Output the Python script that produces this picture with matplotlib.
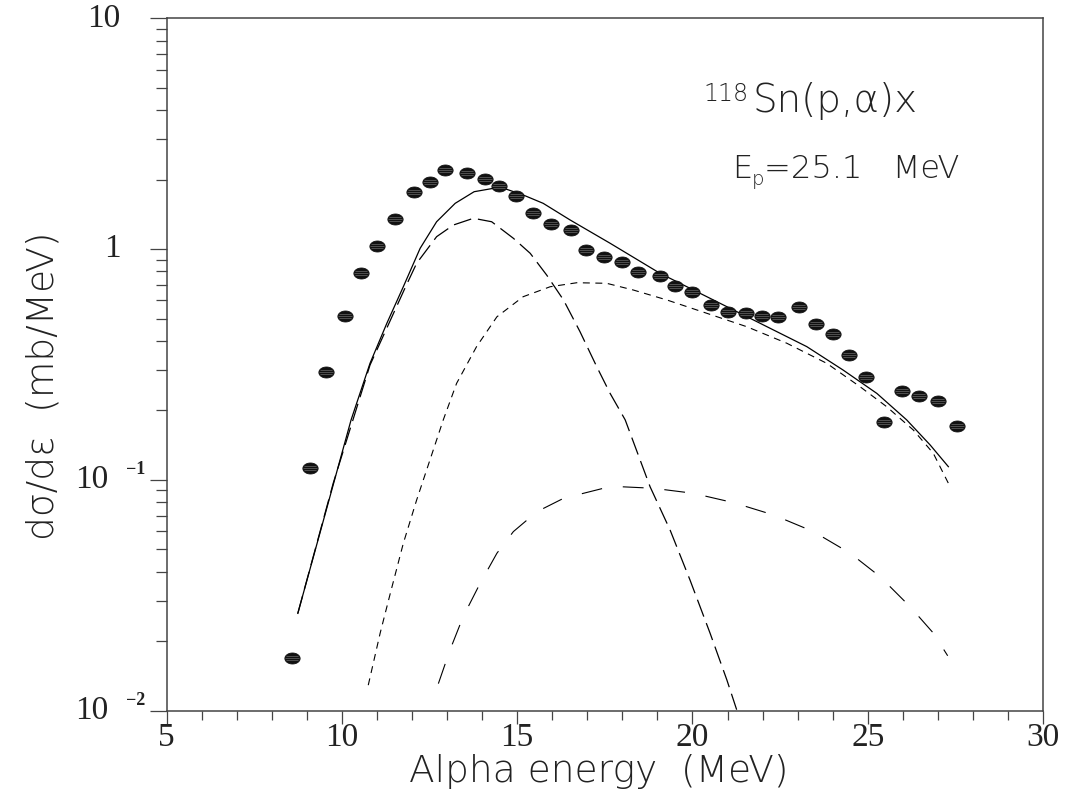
import numpy as np
import matplotlib
matplotlib.use("Agg")
import matplotlib.pyplot as plt
from matplotlib.path import Path
from matplotlib.ticker import LogLocator, NullFormatter, MultipleLocator

plt.rcParams['lines.scale_dashes'] = False

# experimental points (alpha energy in MeV, dsigma/deps in mb/MeV)
exp_e = [8.57, 9.10, 9.55, 10.08, 10.55, 11.00, 11.51, 12.06, 12.51, 12.94,
         13.56, 14.08, 14.47, 14.96, 15.44, 15.96, 16.53, 16.96, 17.48, 17.98,
         18.44, 19.07, 19.50, 20.00, 20.53, 21.00, 21.52, 21.99, 22.43, 23.05,
         23.52, 24.00, 24.47, 24.94, 25.47, 25.97, 26.47, 27.01, 27.54]
exp_xs = [0.0169, 0.113, 0.294, 0.513, 0.790, 1.034, 1.350, 1.763, 1.959, 2.208,
          2.143, 2.018, 1.883, 1.704, 1.434, 1.285, 1.206, 0.988, 0.927, 0.877,
          0.798, 0.765, 0.694, 0.654, 0.573, 0.532, 0.527, 0.514, 0.509, 0.563,
          0.474, 0.429, 0.348, 0.280, 0.179, 0.2435, 0.2316, 0.2204, 0.1712]

# total calculation (solid)
tot_e = [8.74, 10.26, 10.80, 11.28, 11.75, 12.23, 12.70, 13.23, 13.77, 14.32,
         14.70, 15.17, 15.74, 16.51, 17.65, 19.07, 20.21, 21.93, 23.26, 24.30,
         25.26, 26.11, 26.78, 27.30]
tot_xs = [0.0264, 0.182, 0.320, 0.477, 0.687, 1.008, 1.314, 1.579, 1.773, 1.834,
          1.816, 1.716, 1.579, 1.337, 1.060, 0.786, 0.644, 0.477, 0.378, 0.299,
          0.237, 0.182, 0.1417, 0.1141]

# component peaking near 14 MeV (long dashes)
c1_e = [8.74, 9.75, 10.80, 11.80, 12.13, 12.70, 13.18, 13.75, 14.27, 14.89,
        15.37, 15.84, 16.32, 16.79, 17.27, 17.65, 18.08, 18.79, 19.36, 19.93,
        20.50, 20.98, 21.26]
c1_xs = [0.0264, 0.0967, 0.3146, 0.679, 0.868, 1.132, 1.272, 1.360, 1.314, 1.114,
         0.959, 0.772, 0.602, 0.439, 0.309, 0.237, 0.182, 0.0934, 0.0607, 0.0368,
         0.0217, 0.0136, 0.0101]

# component peaking near 17 MeV (short dashes)
c2_e = [10.75, 11.09, 11.38, 11.75, 12.13, 12.51, 12.89, 13.27, 13.84, 14.42,
        15.17, 15.94, 16.70, 17.55, 18.31, 19.27, 20.41, 21.55, 22.69, 23.83,
        24.78, 25.54, 26.30, 26.87, 27.30]
c2_xs = [0.0129, 0.0217, 0.0323, 0.0531, 0.0818, 0.122, 0.182, 0.262, 0.378, 0.509,
         0.622, 0.687, 0.715, 0.711, 0.665, 0.602, 0.527, 0.461, 0.391, 0.320,
         0.2534, 0.2076, 0.1645, 0.1304, 0.0967]

# small component (medium dashes)
c3_e = [12.75, 13.08, 13.46, 13.94, 14.42, 14.89, 15.56, 16.32, 17.46, 17.90,
        18.88, 20.02, 21.17, 22.31, 23.45, 24.50, 25.35, 26.21, 26.87, 27.28]
c3_xs = [0.0131, 0.0183, 0.0256, 0.0356, 0.0481, 0.0597, 0.0728, 0.0832, 0.0920, 0.0935,
         0.0920, 0.0875, 0.0797, 0.0705, 0.0597, 0.0481, 0.0381, 0.0282, 0.0217, 0.0173]

ytick_vals = [10, 1, 0.1, 0.01]
ytick_main = ['10', '1', '10', '10']
ytick_exp = ['', '', '\u22121', '\u22122']
xtick_vals = [5, 10, 15, 20, 25, 30]

fig = plt.figure(figsize=(10.68, 7.93), dpi=100)
ax = fig.add_axes([0.1561, 0.1038, 0.8205, 0.8731])

# ellipse marker with light horizontal stripes
t = np.linspace(0, 2 * np.pi, 40)
ellipse = Path(np.column_stack([np.cos(t), 0.72 * np.sin(t)]), closed=True)
stripes = Path([(-0.9, 0.0), (0.9, 0.0), (-0.75, 0.3), (0.75, 0.3), (-0.75, -0.3), (0.75, -0.3)],
               [Path.MOVETO, Path.LINETO] * 3)

ax.plot(exp_e, exp_xs, linestyle='none', marker=ellipse, markersize=11,
        markerfacecolor='#111111', markeredgecolor='#111111', markeredgewidth=0.6, zorder=5)
ax.plot(exp_e, exp_xs, linestyle='none', marker=stripes, markersize=9.9,
        markerfacecolor='none', markeredgecolor='#6a6a6a', markeredgewidth=0.5, zorder=6)

ax.plot(tot_e, tot_xs, color='black', lw=0.9)
ax.plot(c1_e, c1_xs, color='black', lw=0.9, dashes=(13, 5))
ax.plot(c2_e, c2_xs, color='black', lw=0.8, dashes=(5, 4))
ax.plot(c3_e, c3_xs, color='black', lw=0.8, dashes=(15, 15))

ax.set_yscale('log')
ax.set_xlim(5, 30)
ax.set_ylim(0.01, 10)

ax.xaxis.set_major_locator(MultipleLocator(5))
ax.xaxis.set_minor_locator(MultipleLocator(1))
ax.yaxis.set_major_locator(LogLocator(base=10))
ax.yaxis.set_minor_locator(LogLocator(base=10, subs=range(2, 10)))
ax.yaxis.set_minor_formatter(NullFormatter())
ax.tick_params(axis='y', which='major', direction='out', length=12, width=0.9,
               color='#444444', labelleft=False)
ax.tick_params(axis='y', which='minor', direction='out', length=8, width=0.9, color='#444444')
ax.tick_params(axis='x', which='major', direction='out', length=9, width=0.9,
               color='#444444', labelbottom=False)
ax.tick_params(axis='x', which='minor', direction='out', length=6.5, width=0.9, color='#444444')
for s in ax.spines.values():
    s.set_color('#444444')
    s.set_linewidth(1.1)

ytr = ax.get_yaxis_transform()
xtr = ax.get_xaxis_transform()
tick_font = dict(family='Liberation Serif', fontsize=24, color='#222222')
for v, m, e in zip(ytick_vals, ytick_main, ytick_exp):
    if e:
        ax.text(-0.067, v, m, transform=ytr, ha='right', va='center', **tick_font)
        ax.text(-0.024, v * 1.02, e, transform=ytr, ha='right', va='bottom',
                family='Liberation Serif', fontsize=13, fontweight='bold', color='#222222')
    else:
        ax.text(-0.053, v, m, transform=ytr, ha='right', va='center', **tick_font)
for v in xtick_vals:
    ax.text(v, -0.051, str(v), transform=xtr, ha='center', va='baseline', **tick_font)

label_font = dict(family='DejaVu Sans', fontweight='light', color='#222222')
fig.text(0.561, 0.014, 'Alpha energy  (MeV)', ha='center', va='baseline', fontsize=27, **label_font)
fig.text(0.040, 0.513, 'd\u03c3/d\u03b5  (mb/MeV)', ha='center', va='center', rotation=90,
         fontsize=27, **label_font)

ax.text(20.30, 4.39, '118', ha='left', va='baseline', fontsize=17, **label_font)
ax.text(21.70, 3.93, 'Sn(p,\u03b1)x', ha='left', va='baseline', fontsize=28, **label_font)
ax.text(21.13, 2.03, 'E', ha='left', va='baseline', fontsize=23, **label_font)
ax.text(21.70, 1.90, 'p', ha='left', va='baseline', fontsize=14, **label_font)
ax.text(22.05, 2.03, '=25.1   MeV', ha='left', va='baseline', fontsize=23, **label_font)

fig.savefig('out.png', dpi=100)
